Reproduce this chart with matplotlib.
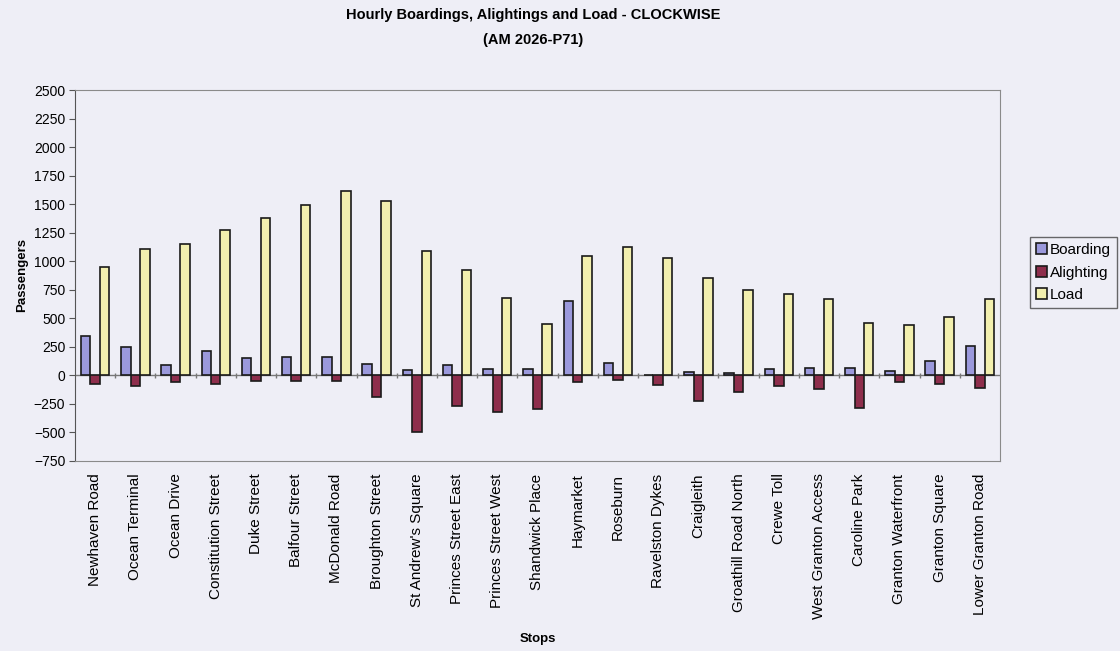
import numpy as np
import matplotlib.pyplot as plt

plt.rcParams['font.family'] = ['Liberation Sans', 'DejaVu Sans']

stops = ['Newhaven Road', 'Ocean Terminal', 'Ocean Drive', 'Constitution Street',
         'Duke Street', 'Balfour Street', 'McDonald Road', 'Broughton Street',
         "St Andrew's Square", 'Princes Street East', 'Princes Street West',
         'Shandwick Place', 'Haymarket', 'Roseburn', 'Ravelston Dykes', 'Craigleith',
         'Groathill Road North', 'Crewe Toll', 'West Granton Access', 'Caroline Park',
         'Granton Waterfront', 'Granton Square', 'Lower Granton Road']
boarding = [344, 250, 94, 210, 150, 158, 163, 97, 50, 88, 59, 55, 650, 108, 5, 30,
            20, 58, 62, 65, 38, 125, 258]
alighting = [-79, -92, -55, -79, -45, -45, -45, -191, -495, -271, -320, -292, -58,
             -44, -88, -222, -145, -96, -115, -290, -55, -75, -110]
load = [947, 1109, 1147, 1274, 1383, 1492, 1615, 1530, 1094, 927, 677, 447, 1044,
        1124, 1030, 855, 744, 712, 670, 455, 445, 512, 672]

bg = '#eeeef6'
fig = plt.figure(figsize=(11.2, 6.51), dpi=100, facecolor=bg)
ax = fig.add_axes([75 / 1120, 190 / 651, 925 / 1120, 371 / 651], facecolor=bg)

x = np.arange(len(stops))
w = 0.235
ax.bar(x - w, boarding, w, color='#9b99dc', edgecolor='#1a1a1a', linewidth=1.2, label='Boarding')
ax.bar(x, alighting, w, color='#8e2e4c', edgecolor='#1a1a1a', linewidth=1.2, label='Alighting')
ax.bar(x + w, load, w, color='#f2efae', edgecolor='#1a1a1a', linewidth=1.2, label='Load')

# zero line with category tick marks
ax.axhline(0, color='#777777', linewidth=1, zorder=0.5)
ax.vlines(x[:-1] + 0.5, -25, 25, color='#777777', linewidth=1)

ax.set_xlim(-0.5, len(stops) - 0.5)
ax.set_ylim(-750, 2500)
ax.set_yticks(np.arange(-750, 2501, 250))
ax.tick_params(axis='y', labelsize=10, length=4, color='#555555', pad=3)
ax.set_xticks(x)
ax.set_xticklabels(stops, rotation=90, fontsize=11, va='top', ha='center')
ax.tick_params(axis='x', length=0, pad=9)

for side in ['top', 'right', 'bottom']:
    ax.spines[side].set_color('#8a8a8a')
ax.spines['left'].set_color('#555555')

ax.set_ylabel('Passengers', fontsize=9.5, fontweight='bold', labelpad=4)
ax.set_xlabel('Stops', fontsize=9.5, fontweight='bold', labelpad=10)

fig.text(0.476, 1 - 15 / 651, 'Hourly Boardings, Alightings and Load - CLOCKWISE',
         ha='center', va='center', fontsize=10.5, fontweight='bold')
fig.text(0.476, 1 - 40 / 651, '(AM 2026-P71)',
         ha='center', va='center', fontsize=10.5, fontweight='bold')

leg = fig.legend(loc='upper left', bbox_to_anchor=(1030 / 1120, 1 - 237 / 651),
                 fontsize=11, frameon=True, fancybox=False, edgecolor='#444444',
                 facecolor=bg, handlelength=0.7, handleheight=0.7, handletextpad=0.2,
                 borderpad=0.4, labelspacing=0.55, borderaxespad=0)

fig.savefig('out.png', dpi=100, facecolor=bg)
